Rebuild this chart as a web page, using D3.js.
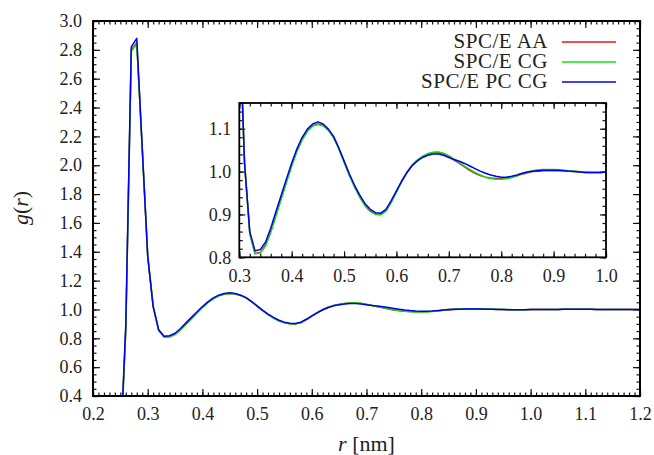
<!DOCTYPE html>
<html>
<head>
<meta charset="utf-8">
<script src="https://cdn.jsdelivr.net/npm/d3@7"></script>
</head>
<body style="margin:0; background:#fff">
<div id="chart"></div>
<script>
// r grid [nm]
const rValues = [
  0.24, 0.25, 0.26, 0.27, 0.28, 0.29, 0.30, 0.31, 0.32, 0.33,
  0.34, 0.35, 0.36, 0.37, 0.38, 0.39, 0.40, 0.41, 0.42, 0.43,
  0.44, 0.45, 0.46, 0.47, 0.48, 0.49, 0.50, 0.51, 0.52, 0.53,
  0.54, 0.55, 0.56, 0.57, 0.58, 0.59, 0.60, 0.61, 0.62, 0.63,
  0.64, 0.65, 0.66, 0.67, 0.68, 0.69, 0.70, 0.71, 0.72, 0.73,
  0.74, 0.75, 0.76, 0.77, 0.78, 0.79, 0.80, 0.81, 0.82, 0.83,
  0.84, 0.85, 0.86, 0.87, 0.88, 0.89, 0.90, 0.91, 0.92, 0.93,
  0.94, 0.95, 0.96, 0.97, 0.98, 0.99, 1.00, 1.01, 1.02, 1.03,
  1.04, 1.05, 1.06, 1.07, 1.08, 1.09, 1.10, 1.11, 1.12, 1.13,
  1.14, 1.15, 1.16, 1.17, 1.18, 1.19, 1.20
];

// SPC/E AA
const gAA = [
  0.000, 0.000, 0.870, 2.800, 2.850, 2.120, 1.370, 1.020, 0.856, 0.809,
  0.811, 0.828, 0.860, 0.899, 0.938, 0.977, 1.015, 1.049, 1.076, 1.096,
  1.107, 1.111, 1.108, 1.097, 1.080, 1.054, 1.023, 0.992, 0.965, 0.941,
  0.921, 0.908, 0.901, 0.900, 0.909, 0.929, 0.953, 0.977, 0.998, 1.015,
  1.027, 1.035, 1.041, 1.044, 1.044, 1.041, 1.035, 1.027, 1.019, 1.011,
  1.003, 0.996, 0.991, 0.987, 0.985, 0.984, 0.984, 0.985, 0.987, 0.990,
  0.994, 0.997, 1.000, 1.001, 1.002, 1.002, 1.002, 1.002, 1.002, 1.001,
  1.000, 0.999, 0.998, 0.998, 0.998, 0.998, 0.999, 0.999, 0.999, 0.999,
  1.000, 1.000, 1.001, 1.001, 1.001, 1.001, 1.001, 1.001, 1.000, 1.000,
  1.000, 0.999, 0.999, 0.999, 1.000, 1.000, 1.000
];

// SPC/E CG
const gCG = [
  0.000, 0.000, 0.860, 2.790, 2.840, 2.120, 1.380, 1.020, 0.855, 0.808,
  0.810, 0.826, 0.858, 0.897, 0.936, 0.975, 1.013, 1.047, 1.074, 1.094,
  1.106, 1.110, 1.107, 1.096, 1.079, 1.053, 1.022, 0.991, 0.964, 0.940,
  0.920, 0.907, 0.900, 0.899, 0.908, 0.928, 0.952, 0.976, 0.997, 1.014,
  1.027, 1.036, 1.042, 1.045, 1.046, 1.043, 1.037, 1.029, 1.021, 1.013,
  1.005, 0.998, 0.992, 0.987, 0.984, 0.982, 0.982, 0.983, 0.986, 0.990,
  0.995, 0.999, 1.002, 1.004, 1.005, 1.005, 1.005, 1.004, 1.003, 1.002,
  1.001, 1.000, 0.999, 0.998, 0.998, 0.998, 0.999, 0.999, 0.999, 0.999,
  1.000, 1.000, 1.001, 1.001, 1.001, 1.001, 1.001, 1.001, 1.000, 1.000,
  1.000, 0.999, 0.999, 0.999, 1.000, 1.000, 1.000
];

// SPC/E PC CG
const gPCCG = [
  0.000, 0.000, 0.900, 2.820, 2.880, 2.120, 1.370, 1.020, 0.860, 0.815,
  0.818, 0.835, 0.868, 0.907, 0.945, 0.983, 1.020, 1.053, 1.080, 1.099,
  1.111, 1.116, 1.111, 1.099, 1.082, 1.055, 1.025, 0.995, 0.968, 0.945,
  0.925, 0.912, 0.904, 0.903, 0.912, 0.932, 0.955, 0.978, 0.998, 1.014,
  1.025, 1.033, 1.038, 1.041, 1.041, 1.038, 1.033, 1.028, 1.024, 1.019,
  1.013, 1.007, 1.001, 0.996, 0.992, 0.989, 0.987, 0.987, 0.989, 0.992,
  0.996, 0.999, 1.001, 1.002, 1.003, 1.003, 1.003, 1.003, 1.002, 1.001,
  1.000, 0.999, 0.998, 0.998, 0.998, 0.998, 0.999, 0.999, 0.999, 0.999,
  1.000, 1.000, 1.001, 1.001, 1.001, 1.001, 1.001, 1.001, 1.000, 1.000,
  1.000, 0.999, 0.999, 0.999, 1.000, 1.000, 1.000
];

const seriesNames = ["SPC/E AA", "SPC/E CG", "SPC/E PC CG"];
const seriesColors = ["#f01010", "#10e010", "#0000f0"];

(function() {
    const width = 654;
    const height = 455;
    const font = '"Liberation Serif", "Times New Roman", serif';

    const series = [gAA, gCG, gPCCG].map((vals, i) => ({
        name: seriesNames[i],
        color: seriesColors[i],
        points: rValues.map((r, j) => [r, vals[j]])
    }));

    const svg = d3.select("#chart").append("svg")
        .attr("width", width)
        .attr("height", height)
        .style("font-family", font);

    // framed plot with mirrored inward ticks, gnuplot style
    function panel(box, xDomain, yDomain, t, id) {
        const x = d3.scaleLinear().domain(xDomain).range([box.left, box.right]);
        const y = d3.scaleLinear().domain(yDomain).range([box.bottom, box.top]);
        const g = svg.append("g");

        svg.append("clipPath").attr("id", id)
            .append("rect")
            .attr("x", box.left).attr("y", box.top)
            .attr("width", box.right - box.left)
            .attr("height", box.bottom - box.top);

        const fmt = d3.format(".1f");
        const xMaj = x.ticks(t.xMaj), xMin = x.ticks(t.xMin);
        const yMaj = y.ticks(t.yMaj), yMin = y.ticks(t.yMin);

        const addAxis = (axisFn, scale, pos, vals, size, pad) => {
            const a = g.append("g")
                .attr("transform", pos)
                .call(axisFn(scale).tickValues(vals).tickSize(size)
                    .tickPadding(pad || 0)
                    .tickFormat(pad ? fmt : ""));
            a.attr("font-family", null).attr("font-size", null);
            a.select(".domain").remove();
            a.selectAll("line").attr("stroke", "#111").attr("stroke-width", 1.2);
            a.selectAll("text")
                .style("font-family", font)
                .style("font-size", t.fontSize)
                .attr("fill", "#222");
            return a;
        };
        // minor ticks
        addAxis(d3.axisBottom, x, `translate(0,${box.bottom})`, xMin, -t.minor);
        addAxis(d3.axisTop, x, `translate(0,${box.top})`, xMin, -t.minor);
        addAxis(d3.axisLeft, y, `translate(${box.left},0)`, yMin, -t.minor);
        addAxis(d3.axisRight, y, `translate(${box.right},0)`, yMin, -t.minor);
        // major ticks + labels
        addAxis(d3.axisBottom, x, `translate(0,${box.bottom})`, xMaj, -t.major, t.pad[0]);
        addAxis(d3.axisTop, x, `translate(0,${box.top})`, xMaj, -t.major);
        addAxis(d3.axisLeft, y, `translate(${box.left},0)`, yMaj, -t.major, t.pad[1]);
        addAxis(d3.axisRight, y, `translate(${box.right},0)`, yMaj, -t.major);

        const line = d3.line().x(d => x(d[0])).y(d => y(d[1]));
        g.append("g").attr("clip-path", `url(#${id})`)
            .selectAll("path")
            .data(series)
            .enter().append("path")
            .attr("d", d => line(d.points))
            .attr("fill", "none")
            .attr("stroke", d => d.color)
            .attr("stroke-width", 1.5)
            .attr("stroke-linejoin", "round");

        g.append("rect")
            .attr("x", box.left).attr("y", box.top)
            .attr("width", box.right - box.left)
            .attr("height", box.bottom - box.top)
            .attr("fill", "none")
            .attr("stroke", "#000")
            .attr("stroke-width", t.frame);

        return { x, y };
    }

    // main plot
    const main = { left: 93, right: 640, top: 21, bottom: 396 };
    panel(main, [0.2, 1.2], [0.4, 3.0],
        { xMaj: 10, xMin: 100, yMaj: 13, yMin: 52, major: 7, minor: 3.5,
          pad: [11, 11], fontSize: "18px", frame: 2 }, "clipMain");

    // inset
    const inset = { left: 239.3, right: 606, top: 103, bottom: 257.3 };
    panel(inset, [0.3, 1.0], [0.8, 1.16],
        { xMaj: 7, xMin: 35, yMaj: 4, yMin: 18, major: 6, minor: 3.5,
          pad: [11.5, 8], fontSize: "18px", frame: 1.8 }, "clipInset");

    // axis titles
    svg.append("text")
        .attr("transform", "translate(28,208) rotate(-90)")
        .attr("text-anchor", "middle")
        .attr("fill", "#222")
        .style("font-family", font)
        .style("font-size", "22px")
        .html('<tspan font-style="italic">g</tspan>(<tspan font-style="italic">r</tspan>)');

    svg.append("text")
        .attr("x", (main.left + main.right) / 2)
        .attr("y", 451)
        .attr("text-anchor", "middle")
        .attr("fill", "#222")
        .style("font-family", font)
        .style("font-size", "22px")
        .html('<tspan font-style="italic">r</tspan> [nm]');

    // legend
    const legend = svg.append("g").attr("class", "legend");
    legend.selectAll(".legend-item")
        .data(series)
        .enter().append("g")
        .attr("class", "legend-item")
        .attr("transform", (d, i) => `translate(0, ${42 + i * 20})`)
        .each(function(d) {
            d3.select(this).append("text")
                .attr("x", 548)
                .attr("y", 5.5)
                .attr("text-anchor", "end")
                .attr("fill", "#222")
                .style("font-family", font)
                .style("font-size", "21px")
                .style("letter-spacing", "0.5px")
                .text(d.name);
            d3.select(this).append("line")
                .attr("x1", 562).attr("x2", 616)
                .attr("y1", 0).attr("y2", 0)
                .attr("stroke", d.color)
                .attr("stroke-width", 1.5);
        });
})();
</script>
</body>
</html>
